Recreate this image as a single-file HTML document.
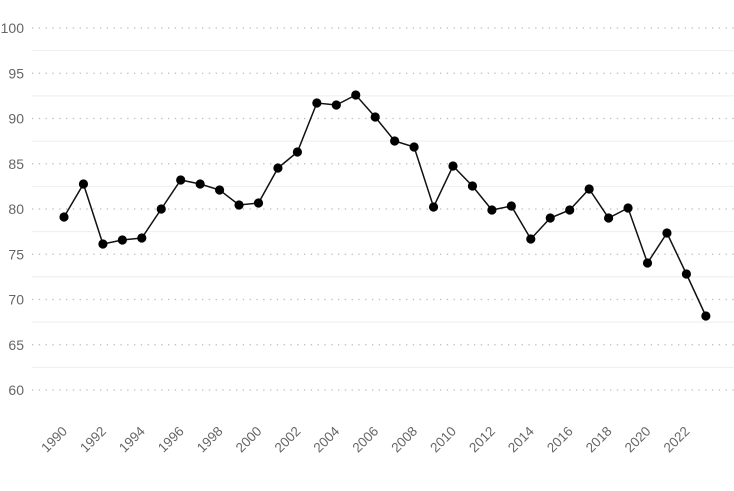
<!DOCTYPE html>
<html><head><meta charset="utf-8"><style>
body{margin:0;background:#fff;width:734px;height:486px;overflow:hidden;font-family:"Liberation Sans",sans-serif}
</style></head><body>
<svg width="734" height="486" xmlns="http://www.w3.org/2000/svg" font-family="Liberation Sans, sans-serif">
<g id="grid"></g>
<g id="ylab" fill="#666" font-size="14" text-anchor="end"></g>
<g id="xlab" fill="#666" font-size="13.5" text-anchor="end"></g>
<polyline id="line" fill="none" stroke="#111" stroke-width="1.5"/>
<g id="dots" fill="#000"></g>
</svg>
<script>
const ns="http://www.w3.org/2000/svg";
function el(t,a,p,txt){const e=document.createElementNS(ns,t);for(const k in a)e.setAttribute(k,a[k]);if(txt!==undefined)e.textContent=txt;document.getElementById(p).appendChild(e);return e;}
const Y=v=>28+(100-v)*9.05;
for(let v=100;v>=60;v-=5){const y=Y(v);
el('line',{x1:32,x2:734,y1:y,y2:y,stroke:'#bbb','stroke-width':1.3,'stroke-dasharray':'1.3 5.5'},'grid');
el('text',{x:24,y:y+5},'ylab',v);
if(v>60){const y2=Y(v-2.5);el('line',{x1:32,x2:734,y1:y2,y2:y2,stroke:'#eee','stroke-width':1},'grid');}
}
const ys=[217,184,244,240,238,209,180,184,190,205,203,168,152,103,105,95,117,141,147,207,166,186,210,206,239,218,210,189,218,208,263,233,274,316];
const X=i=>64+i*19.45;
let pts=ys.map((y,i)=>X(i)+','+y).join(' ');
document.getElementById('line').setAttribute('points',pts);
ys.forEach((y,i)=>el('circle',{cx:X(i),cy:y,r:4.6},'dots'));
for(let i=0;i<34;i+=2){const x=X(i)+4,y=432;
el('text',{x:x,y:y,transform:`rotate(-45 ${x} ${y})`},'xlab',1990+i);}
</script>
</body></html>
